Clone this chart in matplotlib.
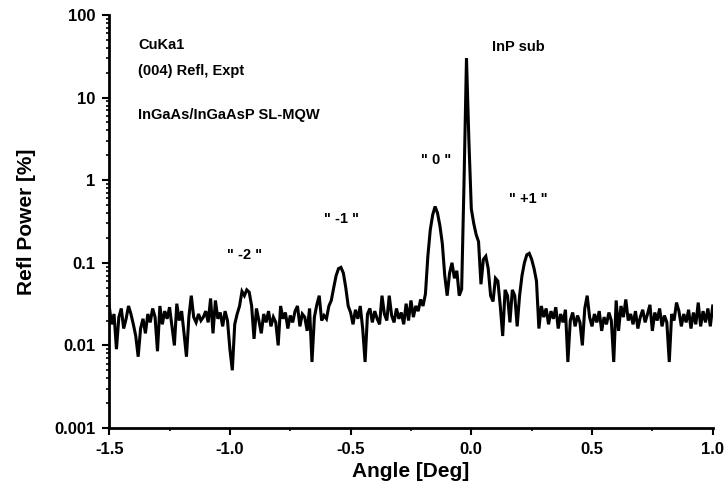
import numpy as np
import matplotlib
matplotlib.use('Agg')
import matplotlib.pyplot as plt
from matplotlib.ticker import FixedLocator, LogLocator, NullFormatter

plt.rcParams['font.family'] = ['Liberation Sans', 'DejaVu Sans']
plt.rcParams['font.weight'] = 'bold'

# scan grid (deg) and measured reflected power (%), one value per step
angle_start = -1.50
angle_step = 0.01
refl = [
    # -1.50 .. -1.41
    0.030, 0.018, 0.024, 0.009, 0.022, 0.028, 0.016, 0.021, 0.030, 0.024,
    # -1.40 .. -1.31
    0.018, 0.013, 0.0073, 0.016, 0.021, 0.014, 0.024, 0.019, 0.028, 0.022,
    # -1.30 .. -1.21
    0.0085, 0.030, 0.018, 0.026, 0.021, 0.029, 0.017, 0.010, 0.032, 0.020,
    # -1.20 .. -1.11
    0.026, 0.014, 0.0073, 0.022, 0.040, 0.022, 0.019, 0.024, 0.020, 0.022,
    # -1.10 .. -1.01
    0.026, 0.019, 0.037, 0.014, 0.035, 0.021, 0.025, 0.017, 0.026, 0.020,
    # -1.00 .. -0.91
    0.009, 0.005, 0.018, 0.024, 0.030, 0.045, 0.040, 0.047, 0.044, 0.030,
    # -0.90 .. -0.81
    0.012, 0.028, 0.020, 0.014, 0.024, 0.019, 0.026, 0.017, 0.022, 0.019,
    # -0.80 .. -0.71
    0.010, 0.030, 0.021, 0.025, 0.016, 0.023, 0.019, 0.026, 0.030, 0.017,
    # -0.70 .. -0.61
    0.024, 0.022, 0.015, 0.028, 0.0063, 0.022, 0.031, 0.040, 0.020, 0.023,
    # -0.60 .. -0.51
    0.021, 0.030, 0.035, 0.050, 0.070, 0.085, 0.088, 0.075, 0.050, 0.030,
    # -0.50 .. -0.41
    0.025, 0.018, 0.027, 0.021, 0.030, 0.016, 0.0063, 0.024, 0.028, 0.019,
    # -0.40 .. -0.31
    0.026, 0.021, 0.018, 0.040, 0.024, 0.020, 0.040, 0.023, 0.019, 0.028,
    # -0.30 .. -0.21
    0.021, 0.025, 0.018, 0.032, 0.020, 0.035, 0.022, 0.030, 0.026, 0.036,
    # -0.20 .. -0.11
    0.030, 0.042, 0.12, 0.25, 0.38, 0.48, 0.40, 0.28, 0.17, 0.070,
    # -0.10 .. -0.01
    0.040, 0.075, 0.10, 0.065, 0.080, 0.040, 0.048, 1.0, 30.0, 3.0,
    # 0.00 .. 0.09
    0.45, 0.30, 0.22, 0.18, 0.055, 0.11, 0.12, 0.085, 0.040, 0.034,
    # 0.10 .. 0.19
    0.065, 0.060, 0.030, 0.013, 0.047, 0.040, 0.019, 0.047, 0.040, 0.017,
    # 0.20 .. 0.29
    0.040, 0.070, 0.10, 0.125, 0.13, 0.11, 0.085, 0.060, 0.016, 0.030,
    # 0.30 .. 0.39
    0.022, 0.028, 0.018, 0.026, 0.021, 0.029, 0.016, 0.024, 0.019, 0.027,
    # 0.40 .. 0.49
    0.0063, 0.020, 0.025, 0.017, 0.023, 0.019, 0.010, 0.028, 0.040, 0.022,
    # 0.50 .. 0.59
    0.017, 0.024, 0.019, 0.026, 0.015, 0.022, 0.018, 0.025, 0.020, 0.0063,
    # 0.60 .. 0.69
    0.035, 0.015, 0.030, 0.022, 0.036, 0.020, 0.024, 0.018, 0.026, 0.016,
    # 0.70 .. 0.79
    0.022, 0.027, 0.019, 0.024, 0.031, 0.015, 0.025, 0.020, 0.028, 0.017,
    # 0.80 .. 0.89
    0.023, 0.019, 0.0063, 0.024, 0.020, 0.033, 0.026, 0.017, 0.024, 0.019,
    # 0.90 .. 1.00
    0.027, 0.016, 0.025, 0.018, 0.033, 0.017, 0.026, 0.019, 0.028, 0.017,
    0.030,
]
angle = angle_start + angle_step * np.arange(len(refl))

x_ticks = [-1.5, -1.0, -0.5, 0.0, 0.5, 1.0]
x_labels = ['-1.5', '-1.0', '-0.5', '0.0', '0.5', '1.0']
y_ticks = [0.001, 0.01, 0.1, 1, 10, 100]
y_labels = ['0.001', '0.01', '0.1', '1', '10', '100']

# peak labels: text, angle, power
peak_labels = [('" -2 "', -0.94, 0.124), ('" -1 "', -0.536, 0.34),
               ('" 0 "', -0.147, 1.76), ('" +1 "', 0.238, 0.59)]

fig = plt.figure(figsize=(7.28, 4.96), dpi=100)
ax = fig.add_axes([0.150, 0.137, 0.829, 0.833])

ax.plot(angle, refl, color='black', lw=2.2, solid_joinstyle='miter')

ax.set_yscale('log')
ax.set_xlim(-1.5, 1.0)
ax.set_ylim(0.001, 100)

ax.xaxis.set_major_locator(FixedLocator(x_ticks))
ax.set_xticklabels(x_labels)
ax.xaxis.set_minor_locator(FixedLocator([-1.25, -0.75, -0.25, 0.25, 0.75]))
ax.yaxis.set_major_locator(FixedLocator(y_ticks))
ax.set_yticklabels(y_labels)
ax.yaxis.set_minor_locator(LogLocator(base=10, subs=np.arange(2, 10)))
ax.yaxis.set_minor_formatter(NullFormatter())

for s in ['top', 'right']:
    ax.spines[s].set_visible(False)
for s in ['left', 'bottom']:
    ax.spines[s].set_linewidth(2)

ax.tick_params(which='major', direction='out', length=5, width=1.5,
               labelsize=12, pad=5)
ax.tick_params(which='minor', direction='out', length=2.5, width=1.2)

ax.set_xlabel('Angle [Deg]', fontsize=15, fontweight='bold', labelpad=4)
ax.set_ylabel('Refl Power [%]', fontsize=15, fontweight='bold', labelpad=13)

ax.text(-1.38, 43, 'CuKa1', fontsize=10.5, va='center', ha='left')
ax.text(-1.38, 21, '(004) Refl, Expt', fontsize=10.5, va='center', ha='left')
ax.text(-1.38, 6.2, 'InGaAs/InGaAsP SL-MQW', fontsize=10.5, va='center', ha='left')
ax.text(0.085, 41, 'InP sub', fontsize=10.5, va='center', ha='left')
for txt, xa, ya in peak_labels:
    ax.text(xa, ya, txt, fontsize=10.5, va='center', ha='center')

fig.savefig('out.png', dpi=100)
